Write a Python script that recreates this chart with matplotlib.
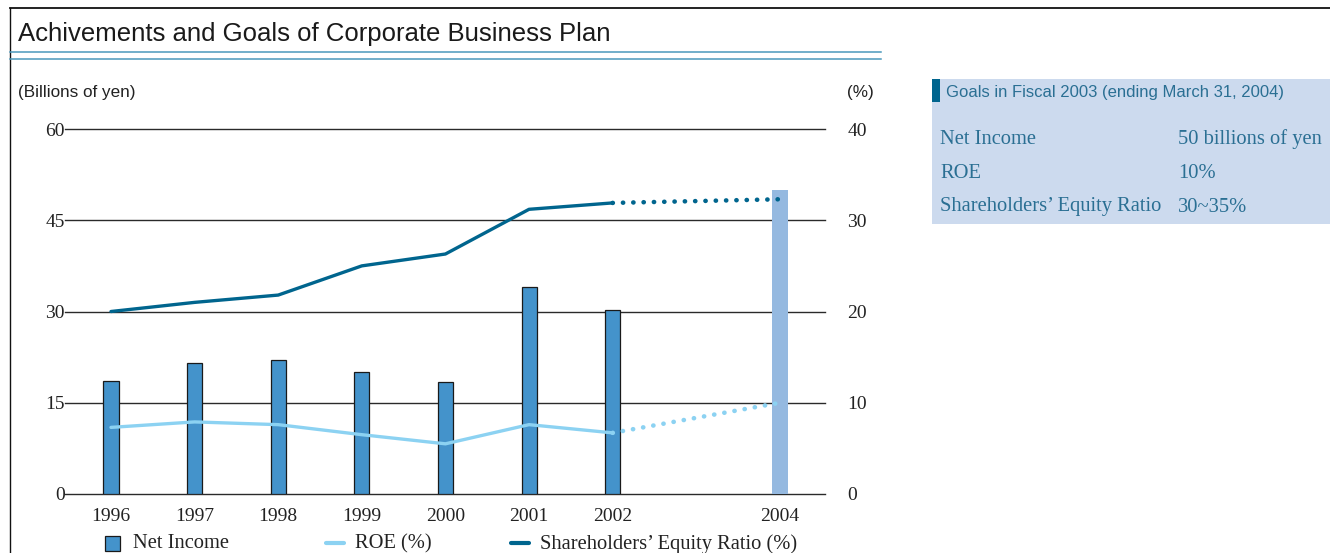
import matplotlib.pyplot as plt
from matplotlib.patches import Rectangle
from matplotlib.lines import Line2D

# Corporate business plan: results 1996-2002 and fiscal 2003 goals
years = ['1996', '1997', '1998', '1999', '2000', '2001', '2002', '2004']
positions = [0, 1, 2, 3, 4, 5, 6, 8]
net_income = [18.5, 21.5, 22.1, 20.1, 18.4, 34.0, 30.2]   # billions of yen
roe = [7.3, 7.9, 7.6, 6.5, 5.5, 7.6, 6.7]                   # %
equity_ratio = [20.0, 21.0, 21.8, 25.0, 26.3, 31.2, 31.9]   # %
goal_income = 50.0
goal_roe = 10.0
goal_equity = 32.3

goal_rows = [('Net Income', '50 billions of yen'),
             ('ROE', '10%'),
             ("Shareholders\u2019 Equity Ratio", '30~35%')]

W, H = 1330, 553
BAR = '#4493CB'
BAR_GOAL = '#95B9E0'
ROE_C = '#8CD2F2'
EQ_C = '#00658E'
TEAL = '#2A6F93'
SERIF = 'Liberation Serif'
SANS = 'Liberation Sans'

fig = plt.figure(figsize=(W / 100, H / 100), dpi=100)


def fx(x):
    return x / W


def fy(y):
    return 1 - y / H


# page frame, title and double rule
fig.add_artist(Line2D([fx(10), 1], [fy(8), fy(8)], color='#111111', lw=1.3))
fig.add_artist(Line2D([fx(10), fx(10)], [fy(8), 0], color='#111111', lw=1.0))
fig.text(fx(18), fy(34), 'Achivements and Goals of Corporate Business Plan',
         family=SANS, fontsize=18.5, color='#1a1a1a', va='center')
fig.add_artist(Line2D([fx(10), fx(881)], [fy(52), fy(52)], color='#4A98BC', lw=1.1))
fig.add_artist(Line2D([fx(10), fx(881)], [fy(59), fy(59)], color='#4A98BC', lw=1.1))

# main axes
ax = fig.add_axes([fx(65), fy(494), fx(825) - fx(65), fy(129) - fy(494)])
ax2 = ax.twinx()
ax.set_zorder(1)
ax2.set_zorder(2)
ax.patch.set_visible(False)

ax.set_xlim(-0.55, 8.54)
ax.set_ylim(0, 60)
ax2.set_ylim(0, 40)
for a in (ax, ax2):
    for s in a.spines.values():
        s.set_visible(False)

for v in [0, 15, 30, 45, 60]:
    ax.axhline(v, color='#2a2a2a', lw=1.0, zorder=0, clip_on=False)

ax.bar(positions[:-1], net_income, width=0.18, color=BAR,
       edgecolor='#1a1a1a', linewidth=0.9, zorder=2)
ax.bar(positions[-1], goal_income, width=0.19, color=BAR_GOAL,
       edgecolor='none', zorder=2)

dots = (0, (0.05, 2.2))
ax2.plot(positions[:-1], equity_ratio, color=EQ_C, lw=2.4, solid_capstyle='round')
ax2.plot([positions[-2], positions[-1]], [equity_ratio[-1], goal_equity],
         color=EQ_C, lw=3.3, linestyle=dots, dash_capstyle='round')
ax2.plot(positions[:-1], roe, color=ROE_C, lw=2.4, solid_capstyle='round')
ax2.plot([positions[-2], positions[-1]], [roe[-1], goal_roe],
         color=ROE_C, lw=3.3, linestyle=dots, dash_capstyle='round')

ax.set_yticks([0, 15, 30, 45, 60])
ax2.set_yticks([0, 10, 20, 30, 40])
ax.set_xticks(positions)
ax.set_xticklabels(years)
ax.tick_params(axis='y', length=0, pad=0, labelsize=14, labelcolor='#222222')
ax.tick_params(axis='x', length=0, pad=10, labelsize=14, labelcolor='#222222')
ax2.tick_params(axis='y', length=0, pad=16, labelsize=14, labelcolor='#222222')
for lab in ax.get_xticklabels() + ax.get_yticklabels() + ax2.get_yticklabels():
    lab.set_family(SERIF)

fig.text(fx(18), fy(92), '(Billions of yen)', family=SANS, fontsize=12.3,
         color='#222222', va='center')
fig.text(fx(847), fy(92), '(%)', family=SANS, fontsize=12.3,
         color='#222222', va='center')

# legend row along the bottom edge
ly = fy(544)
fig.add_artist(Rectangle((fx(105), fy(551)), fx(15), fy(536) - fy(551),
                         facecolor=BAR, edgecolor='#1a1a1a', lw=0.9))
fig.text(fx(133), ly, 'Net Income', family=SERIF, fontsize=14.8, color='#222222', va='center')
fig.add_artist(Line2D([fx(326), fx(344)], [fy(543), fy(543)], color=ROE_C, lw=3,
                      solid_capstyle='round'))
fig.text(fx(355), ly, 'ROE (%)', family=SERIF, fontsize=14.8, color='#222222', va='center')
fig.add_artist(Line2D([fx(511), fx(529)], [fy(543), fy(543)], color=EQ_C, lw=3,
                      solid_capstyle='round'))
fig.text(fx(540), ly, "Shareholders\u2019 Equity Ratio (%)", family=SERIF, fontsize=14.8,
         color='#222222', va='center')

# goals panel
fig.add_artist(Rectangle((fx(932), fy(224)), 1 - fx(932), fy(79) - fy(224),
                         facecolor='#CCDAEE', edgecolor='none'))
fig.add_artist(Rectangle((fx(932), fy(102)), fx(8), fy(79) - fy(102),
                         facecolor=EQ_C, edgecolor='none'))
fig.text(fx(946), fy(92), 'Goals in Fiscal 2003 (ending March 31, 2004)',
         family=SANS, fontsize=12, color=TEAL, va='center')
for i, (name, value) in enumerate(goal_rows):
    y = fy(139 + 34 * i)
    fig.text(fx(940), y, name, family=SERIF, fontsize=14.8, color=TEAL, va='center')
    fig.text(fx(1178), y, value, family=SERIF, fontsize=14.8, color=TEAL, va='center')

fig.savefig('out.png', dpi=100)
